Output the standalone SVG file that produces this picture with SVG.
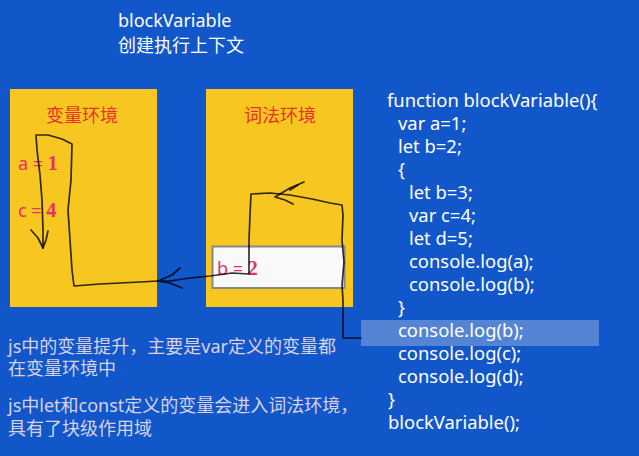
<svg xmlns="http://www.w3.org/2000/svg" width="639" height="456" viewBox="0 0 639 456">
<style>
.w{fill:#FFFFFF;font-family:"Noto Sans","Noto Sans CJK SC",sans-serif;font-size:18px}
.code{fill:#FFFFFF;font-family:"Noto Sans",sans-serif;font-size:18.4px}
.note{fill:#D9D2E3;font-family:"Noto Sans","Noto Sans CJK SC",sans-serif;font-size:18px}
.env{fill:#F7C620}
.envt{fill:#E8302C;font-family:"Noto Sans CJK SC",sans-serif;font-size:18px;text-anchor:middle}
.v{fill:#E6306E;font-family:"Noto Sans",sans-serif;font-size:18px}
.n{font-family:"Liberation Serif",serif;font-weight:bold;font-size:20px}
.ink{fill:none;stroke:#000;stroke-opacity:0.8;stroke-width:1.7;stroke-linecap:round;stroke-linejoin:round}
</style>
<rect width="639" height="456" fill="#1257C9"/>
<g id="title">
<text class="w" x="118" y="27">blockVariable</text>
<text class="w" x="118" y="52">创建执行上下文</text>
</g>
<g id="varEnv">
<rect class="env" x="10" y="89" width="147" height="218"/>
<text class="envt" x="82" y="122">变量环境</text>
<text class="v" x="18" y="170">a = <tspan class="n">1</tspan></text>
<text class="v" x="18" y="217">c = <tspan class="n">4</tspan></text>
</g>
<g id="lexEnv">
<rect class="env" x="206" y="89" width="147" height="218"/>
<text class="envt" x="280" y="122">词法环境</text>
<rect x="212.5" y="246.5" width="132" height="41.5" fill="#F9F9F9" stroke="#888888" stroke-width="2"/>
<text class="v" x="217" y="275">b = <tspan class="n">2</tspan></text>
</g>
<g id="code">
<rect x="361" y="320" width="238" height="26" fill="#5684D4"/>
<text class="code" x="387" y="107">function blockVariable(){</text>
<text class="code" x="398" y="130">var a=1;</text>
<text class="code" x="398" y="153">let b=2;</text>
<text class="code" x="398" y="176">{</text>
<text class="code" x="409" y="199">let b=3;</text>
<text class="code" x="409" y="222">var c=4;</text>
<text class="code" x="409" y="245">let d=5;</text>
<text class="code" x="409" y="268">console.log(a);</text>
<text class="code" x="409" y="291">console.log(b);</text>
<text class="code" x="398" y="314">}</text>
<text class="code" x="398" y="337">console.log(b);</text>
<text class="code" x="398" y="360">console.log(c);</text>
<text class="code" x="398" y="383">console.log(d);</text>
<text class="code" x="388" y="406">}</text>
<text class="code" x="388" y="429">blockVariable();</text>
</g>
<g id="notes">
<text class="note" x="8" y="353">js中的变量提升，主要是var定义的变量都</text>
<text class="note" x="8" y="375">在变量环境中</text>
<text class="note" x="8" y="412">js中let和const定义的变量会进入词法环境，</text>
<text class="note" x="8" y="435">具有了块级作用域</text>
</g>
<g id="connectors">
<path class="ink" d="M361,338 L343,338 L343,300 L342,285 L344,262 L342,240 L343,215 L342,205 L330,203 L312,199 L290,195 L270,193 L251,194 L250,215 L249,240 L249,260 L249,274 L232,273 L210,276 L190,278 L170,281 L158,281 L140,282 L120,283 L100,284 L74,286 L72,270 L70,240 L68,210 L71,180 L72,144 L62,139 L48,135 L36,135 L37,150 L40,175 L42,200 L43,230 L43,248"/>
<path class="ink" d="M31,230 L38,238 L43,248 L46,240 L48,231"/>
<path class="ink" d="M180,268 L172,275 L158,281 L170,283 L182,288"/>
<path class="ink" d="M304,182 L290,188 L275,197 L285,200 L293,204"/>
<path class="ink" d="M290,190 L298,185"/>
</g>
</svg>
